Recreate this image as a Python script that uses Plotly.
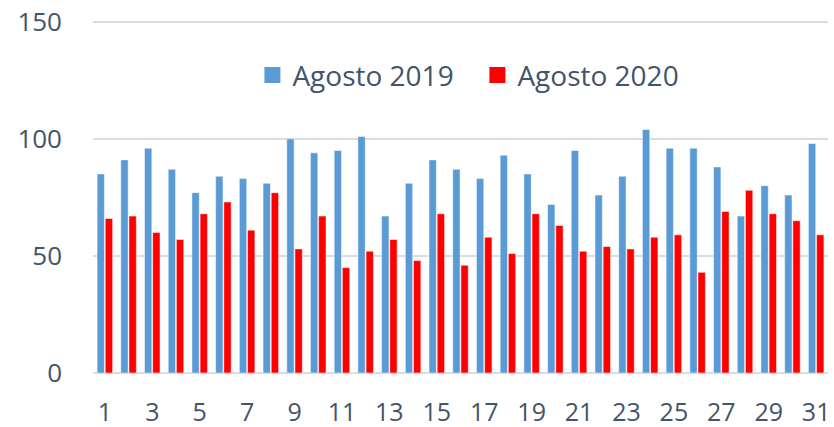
import plotly.graph_objects as go

days = list(range(1, 32))
agosto_2019 = [85, 91, 96, 87, 77, 84, 83, 81, 100, 94, 95, 101, 67, 81, 91, 87,
               83, 93, 85, 72, 95, 76, 84, 104, 96, 96, 88, 67, 80, 76, 98]
agosto_2020 = [66, 67, 60, 57, 68, 73, 61, 77, 53, 67, 45, 52, 57, 48, 68, 46,
               58, 51, 68, 63, 52, 54, 53, 58, 59, 43, 69, 78, 68, 65, 59]
y_ticks = [0, 50, 100, 150]
x_ticks = list(range(1, 32, 2))

text_color = "#44546A"
grid_color = "#D9DDE3"
font_family = "Open Sans"
blue = "#5B9BD5"
red = "#FF0000"

fig = go.Figure()
fig.add_trace(go.Bar(x=days, y=agosto_2019, name="Agosto 2019", showlegend=False,
                     marker=dict(color=blue, line=dict(color="rgba(255,255,255,0.5)", width=1))))
fig.add_trace(go.Bar(x=days, y=agosto_2020, name="Agosto 2020", showlegend=False,
                     marker=dict(color=red, line=dict(color="rgba(255,255,255,0.5)", width=1))))
# legend entries with larger square swatches
for name, col in [("Agosto 2019", blue), ("Agosto 2020", red)]:
    fig.add_trace(go.Scatter(x=[None], y=[None], mode="markers", name=name,
                             marker=dict(symbol="square", size=17, color=col)))

fig.update_layout(
    width=834, height=427,
    margin=dict(l=93, r=6, t=10, b=54, autoexpand=False),
    paper_bgcolor="white", plot_bgcolor="white",
    barmode="group", bargap=0.31, bargroupgap=0.1,
    font=dict(family=font_family, color=text_color, size=26),
    legend=dict(orientation="h", x=0.523, y=0.82, xanchor="center", yanchor="middle",
                font=dict(size=28, color=text_color), bgcolor="rgba(0,0,0,0)",
                entrywidth=180, itemwidth=30),
    showlegend=True,
)
fig.update_xaxes(
    range=[0.5, 31.5], tickmode="array", tickvals=x_ticks, ticktext=[str(v) for v in x_ticks],
    showgrid=False, zeroline=False, showline=False, ticks="", automargin=False,
    ticklabelstandoff=22, tickfont=dict(size=25, color=text_color),
)
fig.update_yaxes(
    range=[0, 155], tickmode="array", tickvals=y_ticks, ticktext=[str(v) for v in y_ticks],
    showgrid=True, gridcolor=grid_color, gridwidth=1.6,
    zeroline=True, zerolinecolor=grid_color, zerolinewidth=1.6,
    showline=False, ticks="", ticklabelstandoff=30, automargin=False,
    tickfont=dict(size=26, color=text_color),
)

fig.write_html("out.html", config={"displayModeBar": False},
               post_script="document.body.style.margin='0';document.body.style.overflow='hidden';")
